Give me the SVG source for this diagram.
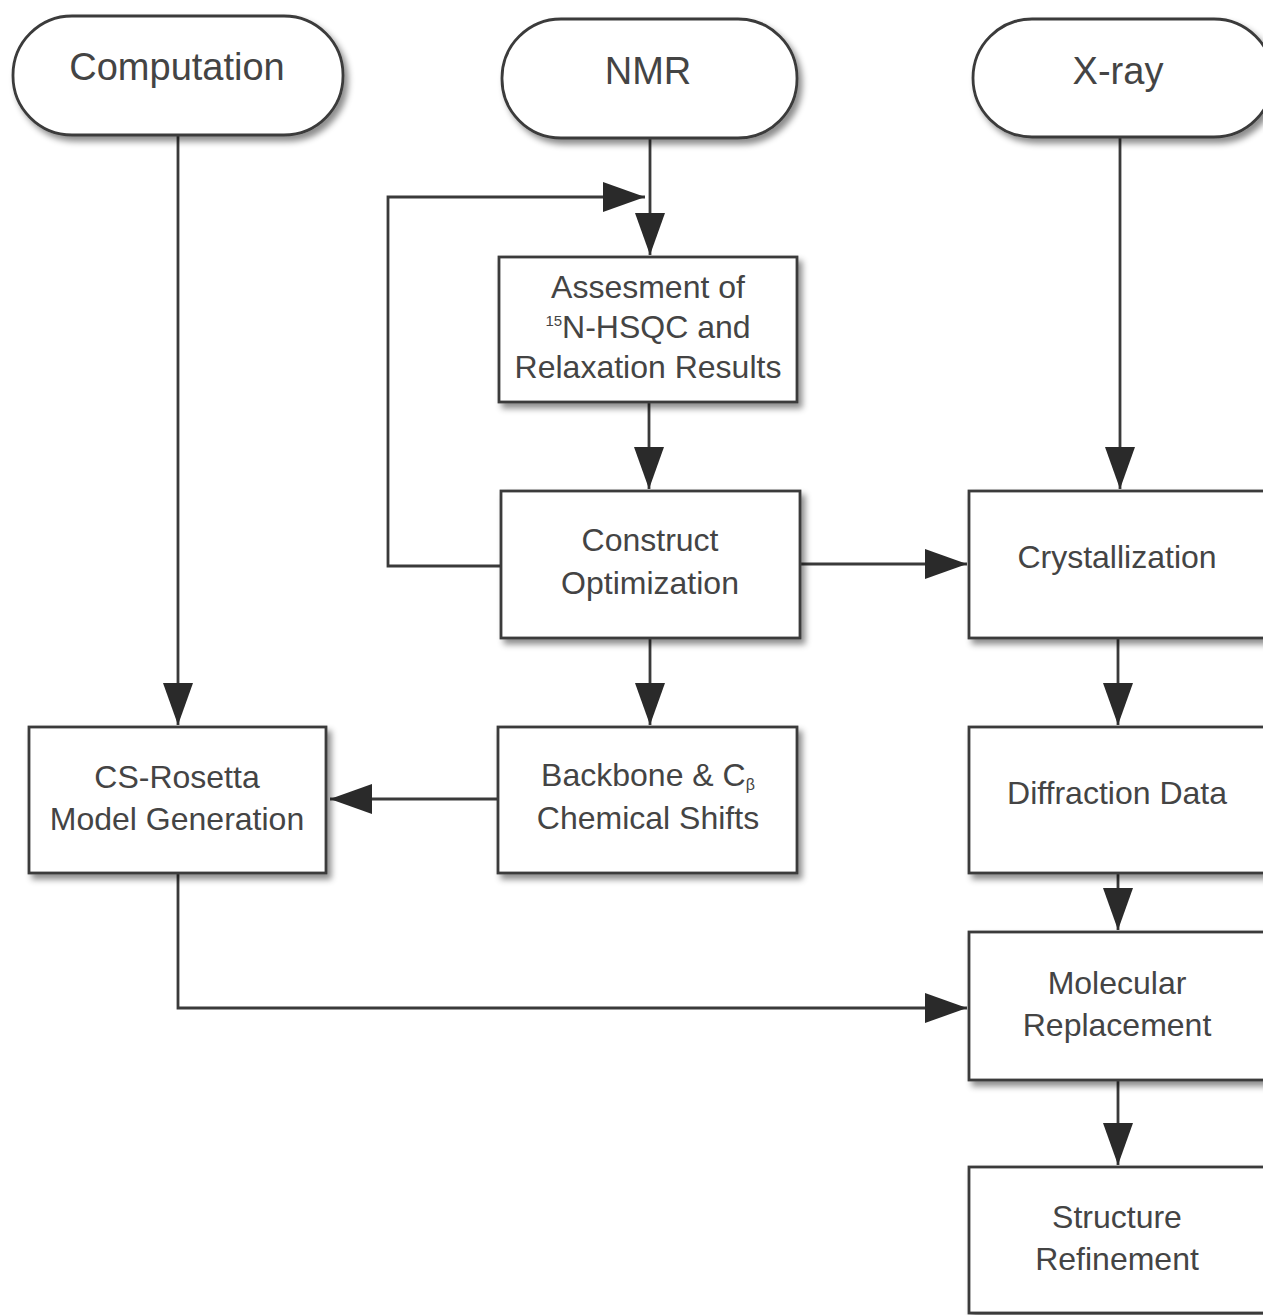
<svg xmlns="http://www.w3.org/2000/svg" width="1263" height="1315" viewBox="0 0 1263 1315">
<style>
.box{fill:#fff;stroke:#3a3a3a;stroke-width:2.8;filter:url(#sh)}
.t{font-family:"Liberation Sans",Arial,sans-serif;font-size:32px;fill:#444;text-anchor:middle}
.tt{font-family:"Liberation Sans",Arial,sans-serif;font-size:38px;fill:#444;text-anchor:middle}
.c{fill:none;stroke:#3a3a3a;stroke-width:2.8}
</style>
<defs>
<filter id="sh" x="-10%" y="-10%" width="125%" height="130%">
<feDropShadow dx="4" dy="5" stdDeviation="3" flood-color="#000" flood-opacity="0.45"/>
</filter>
<marker id="ah" markerUnits="userSpaceOnUse" markerWidth="44" markerHeight="32" refX="42" refY="15" orient="auto">
<path d="M0,0 L42,15 L0,30 Z" fill="#2a2a2a"/>
</marker>
</defs>
<g id="connectors">
<path class="c" d="M178,135 V725" marker-end="url(#ah)"/>
<path class="c" d="M650,138 V255" marker-end="url(#ah)"/>
<path class="c" d="M500,566 H388 V197 H645" marker-end="url(#ah)"/>
<path class="c" d="M649,402 V489" marker-end="url(#ah)"/>
<path class="c" d="M800,564 H967" marker-end="url(#ah)"/>
<path class="c" d="M1120,137 V489" marker-end="url(#ah)"/>
<path class="c" d="M650,638 V725" marker-end="url(#ah)"/>
<path class="c" d="M498,799 H330" marker-end="url(#ah)"/>
<path class="c" d="M1118,638 V725" marker-end="url(#ah)"/>
<path class="c" d="M1118,873 V930" marker-end="url(#ah)"/>
<path class="c" d="M178,873 V1008 H967" marker-end="url(#ah)"/>
<path class="c" d="M1118,1080 V1165" marker-end="url(#ah)"/>
</g>
<g id="computation">
<rect class="box" x="13" y="16" width="330" height="119" rx="59"/>
<text class="tt" x="177" y="80">Computation</text>
</g>
<g id="nmr">
<rect class="box" x="502" y="19" width="295" height="119" rx="59"/>
<text class="tt" x="648" y="84">NMR</text>
</g>
<g id="xray">
<rect class="box" x="973" y="19" width="300" height="118" rx="59"/>
<text class="tt" x="1118" y="84">X-ray</text>
</g>
<g id="assessment">
<rect class="box" x="499" y="257" width="298" height="145"/>
<text class="t" x="648" y="298">Assesment of</text>
<text class="t" x="648" y="338"><tspan font-size="15" dy="-12">15</tspan><tspan dy="12">N-HSQC and</tspan></text>
<text class="t" x="648" y="378">Relaxation Results</text>
</g>
<g id="construct">
<rect class="box" x="501" y="491" width="299" height="147"/>
<text class="t" x="650" y="551">Construct</text>
<text class="t" x="650" y="594">Optimization</text>
</g>
<g id="crystallization">
<rect class="box" x="969" y="491" width="300" height="147"/>
<text class="t" x="1117" y="568">Crystallization</text>
</g>
<g id="backbone">
<rect class="box" x="498" y="727" width="299" height="146"/>
<text class="t" x="648" y="786">Backbone &amp; C<tspan font-size="16" dy="4">β</tspan></text>
<text class="t" x="648" y="829">Chemical Shifts</text>
</g>
<g id="csrosetta">
<rect class="box" x="29" y="727" width="297" height="146"/>
<text class="t" x="177" y="788">CS-Rosetta</text>
<text class="t" x="177" y="830">Model Generation</text>
</g>
<g id="diffraction">
<rect class="box" x="969" y="727" width="300" height="146"/>
<text class="t" x="1117" y="804">Diffraction Data</text>
</g>
<g id="molecular">
<rect class="box" x="969" y="932" width="300" height="148"/>
<text class="t" x="1117" y="994">Molecular</text>
<text class="t" x="1117" y="1036">Replacement</text>
</g>
<g id="refinement">
<rect class="box" x="969" y="1167" width="300" height="146"/>
<text class="t" x="1117" y="1228">Structure</text>
<text class="t" x="1117" y="1270">Refinement</text>
</g>
</svg>
